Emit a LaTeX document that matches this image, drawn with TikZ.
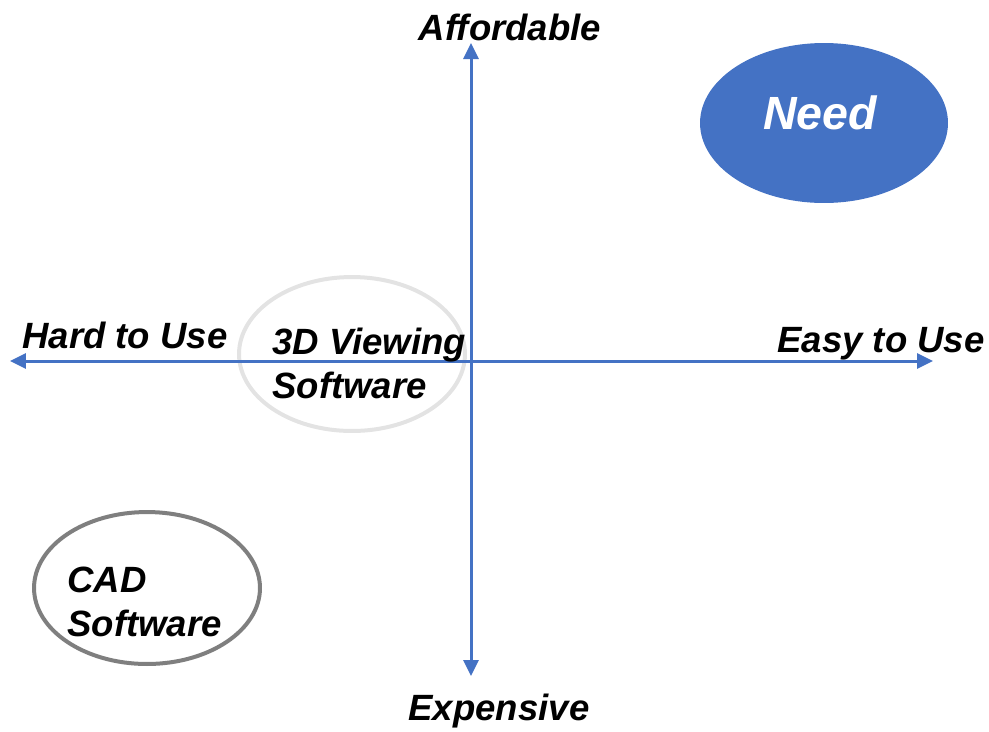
\documentclass[tikz,border=0pt]{standalone}
\usepackage{fontspec}
\setmainfont{Liberation Sans}
\usetikzlibrary{arrows.meta,shapes.geometric}
\definecolor{axisblue}{HTML}{4472C4}
\definecolor{palegrey}{HTML}{E3E3E3}
\definecolor{midgrey}{HTML}{7F7F7F}
\tikzset{
  axis/.style={draw=axisblue, line width=0.06cm, {Triangle[length=0.32cm,width=0.3cm]}-{Triangle[length=0.32cm,width=0.3cm]}},
  blob/.style={ellipse, line width=0.08cm, inner sep=0pt},
  lbl/.style={font=\fontsize{20.8}{25}\selectfont\bfseries\itshape, inner sep=0pt}
}
\begin{document}
\begin{tikzpicture}[x=0.02cm,y=-0.02cm]
\useasboundingbox (0,0) rectangle (989,731);
% ellipses
\node[blob, draw=palegrey, minimum width=4.52cm, minimum height=3.08cm] (view) at (352,354) {};
\node[blob, draw=midgrey, minimum width=4.52cm, minimum height=3.04cm] (cad) at (147,588) {};
\node[blob, fill=axisblue, minimum width=4.96cm, minimum height=3.2cm] (need) at (824,123) {};
% axes
\coordinate (west) at (10,361);
\coordinate (east) at (933,361);
\coordinate (north) at (471,43);
\coordinate (south) at (471,676);
\draw[axis] (west) -- (east);
\draw[axis] (north) -- (south);
% labels
\node[lbl, anchor=base] (afford) at (510,40) {Affordable};
\node[lbl, anchor=base] (expens) at (499,720) {Expensive};
\node[lbl, anchor=base] (hard) at (125,348) {Hard to Use};
\node[lbl, anchor=base] (easy) at (881,352) {Easy to Use};
\node[lbl, anchor=base west, align=left] (viewtxt) at (272,398) {3D Viewing\\Software};
\node[lbl, anchor=base west, align=left] (cadtxt) at (67,636) {CAD\\Software};
\node[font=\fontsize{26.5}{30}\selectfont\bfseries\itshape, text=white, inner sep=0pt, anchor=base] (needtxt) at (820,129) {Need};
\end{tikzpicture}
\end{document}
